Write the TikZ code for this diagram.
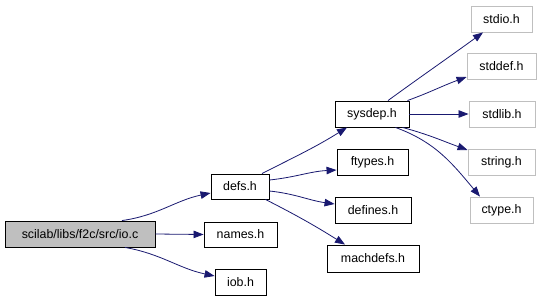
\documentclass[tikz,border=0pt]{standalone}
\usepackage{fontspec}
\setmainfont{Liberation Sans}
\usetikzlibrary{arrows.meta}
\definecolor{edgecol}{HTML}{191970}
\definecolor{grayfill}{HTML}{BFBFBF}
\definecolor{grayline}{HTML}{BFBFBF}
\tikzset{
  filebox/.style={draw=black, line width=0.9pt, fill=white, inner sep=0pt, font=\fontsize{12.4}{14}\selectfont},
  mainbox/.style={filebox, fill=grayfill},
  sysbox/.style={filebox, draw=grayline},
  dep/.style={draw=edgecol, line width=0.8pt, -{Triangle[length=10pt,width=7.5pt]}, color=edgecol},
}
\begin{document}
\begin{tikzpicture}[x=1pt,y=-1pt]
\useasboundingbox (0,0) rectangle (541,298);
\node[mainbox, minimum width=150pt, minimum height=26pt] (io) at (80,234) {scilab/libs/f2c/src/io.c};
\node[filebox, minimum width=58pt, minimum height=25pt] (defs) at (240,186.5) {defs.h};
\node[filebox, minimum width=73pt, minimum height=25pt] (names) at (240.5,234.5) {names.h};
\node[filebox, minimum width=51pt, minimum height=26pt] (iob) at (240.5,282) {iob.h};
\node[filebox, minimum width=74pt, minimum height=26pt] (sysdep) at (372,114) {sysdep.h};
\node[filebox, minimum width=71pt, minimum height=26pt] (ftypes) at (372.5,162) {ftypes.h};
\node[filebox, minimum width=76pt, minimum height=26pt] (defines) at (373,210) {defines.h};
\node[filebox, minimum width=92pt, minimum height=27pt] (machdefs) at (373,258.5) {machdefs.h};
\node[sysbox, minimum width=61pt, minimum height=26pt] (stdio) at (501.5,19) {stdio.h};
\node[sysbox, minimum width=69pt, minimum height=26pt] (stddef) at (501.5,66) {stddef.h};
\node[sysbox, minimum width=66pt, minimum height=26pt] (stdlib) at (502,114) {stdlib.h};
\node[sysbox, minimum width=67pt, minimum height=26pt] (string) at (501.5,162) {string.h};
\node[sysbox, minimum width=63pt, minimum height=26pt] (ctype) at (501.5,210) {ctype.h};

\draw[dep] ([xshift=42pt]io.north) to[out=8,in=192] ([yshift=-6.5pt]defs.west);
\draw[dep] (io.east) -- (names.west);
\draw[dep] ([xshift=45pt]io.south) to[out=-10,in=168] ([yshift=6pt]iob.west);

\draw[dep] ([xshift=22pt]defs.north) to[out=27,in=212] ([xshift=-25pt]sysdep.south);
\draw[dep] ([yshift=6.5pt]defs.east) to[out=6,in=183] ([yshift=-8pt]ftypes.west);
\draw[dep] ([yshift=-4.5pt]defs.east) to[out=-6,in=172] ([yshift=6pt]defines.west);
\draw[dep] ([xshift=-4pt]defs.south east) to[out=-27,in=148] ([xshift=-28pt]machdefs.north);

\draw[dep] ([xshift=16pt]sysdep.north) to[out=36,in=216] ([xshift=-18.5pt]stdio.south);
\draw[dep] ([xshift=-2pt]sysdep.north east) to[out=20,in=200] ([yshift=-11pt]stddef.west);
\draw[dep] (sysdep.east) -- (stdlib.west);
\draw[dep] ([xshift=-7pt]sysdep.south east) to[out=-15,in=160] ([yshift=12pt]string.west);
\draw[dep] ([xshift=-14pt]sysdep.south east) to[out=-20,in=130] ([xshift=-21.5pt]ctype.north);
\end{tikzpicture}
\end{document}
